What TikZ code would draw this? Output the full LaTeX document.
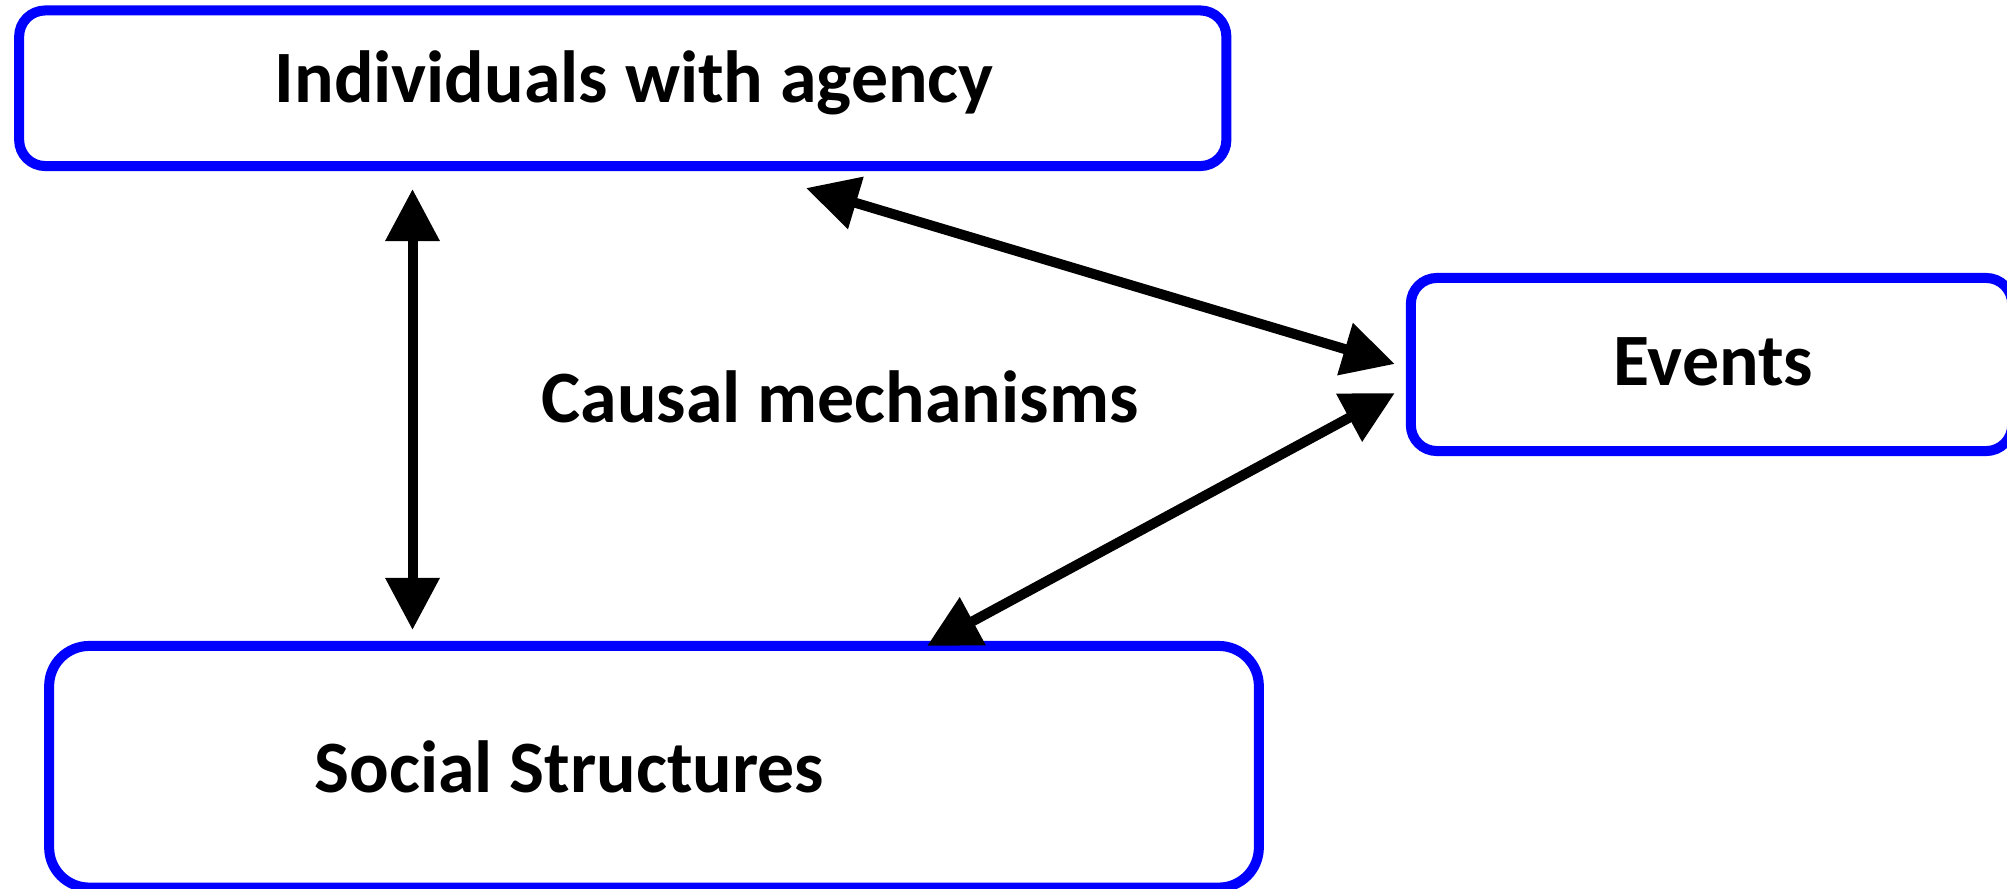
\documentclass[tikz,border=0pt]{standalone}
\usepackage{fontspec}
\setmainfont{Carlito}
\usetikzlibrary{arrows.meta,calc}
\begin{document}
\begin{tikzpicture}[x=0.01cm,y=-0.01cm,
  box/.style={draw=blue, line width=0.1cm, rounded corners=#1, outer sep=0pt, inner sep=0pt},
  lbl/.style={font=\bfseries\fontsize{21}{25}\selectfont, inner sep=0pt, anchor=base},
  arr/.style={{Triangle[length=0.52cm,width=0.52cm]}-{Triangle[length=0.52cm,width=0.52cm]}, line width=0.1cm}]
\useasboundingbox (0,0) rectangle (2007,888);
% boxes
\node[box=0.26cm, minimum width=12.065cm, minimum height=1.555cm] (ind) at (622.75,88.25) {};
\node[box=0.26cm, minimum width=6.01cm, minimum height=1.73cm] (ev) at (1711.5,364.5) {};
\node[box=0.40cm, minimum width=12.09cm, minimum height=2.415cm] (soc) at (654,766.75) {};
% texts
\node[lbl] (tind) at (634,103) {Individuals with agency};
\node[lbl] (tev) at (1713.5,385) {Events};
\node[lbl] (tsoc) at (569.5,792) {Social Structures};
\node[lbl] (tcm) at (840,422) {Causal mechanisms};
% connectors
\draw[arr] ($(ind.south)+(-210.25,23)$) -- ($(soc.north)+(-241.5,-16)$);
\draw[arr] ($(ind.south)+(183.25,22)$) -- ($(ev.west)+(-16,-0.5)$);
\draw[arr] ($(ev.west)+(-16,28.5)$) -- ($(soc.north)+(273,0)$);
\end{tikzpicture}
\end{document}
